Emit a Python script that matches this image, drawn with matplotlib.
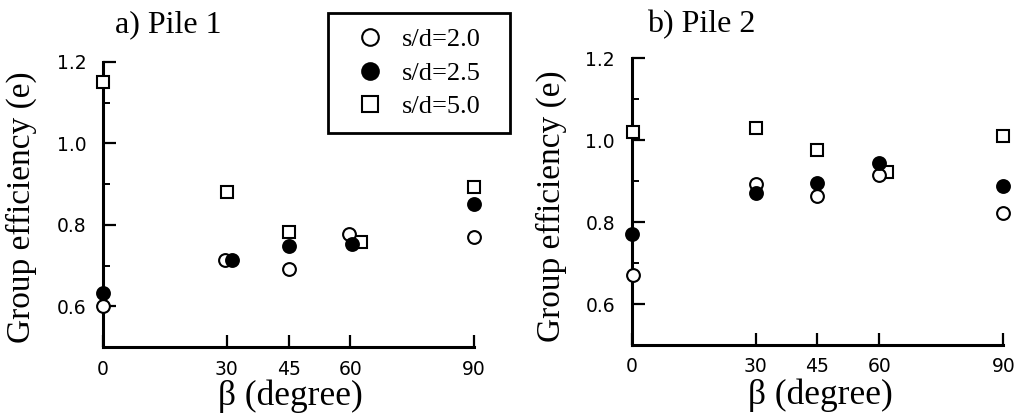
import matplotlib
matplotlib.use("Agg")
import matplotlib.pyplot as plt
from matplotlib.lines import Line2D

# ---- data ----
labels = ["s/d=2.0", "s/d=2.5", "s/d=5.0"]
xticks = [0, 30, 45, 60, 90]
yticks_major = [0.6, 0.8, 1.0, 1.2]
yticks_minor = [0.7, 0.9, 1.1]

# Panel a) Pile 1
a_open_x = [0, 29.7, 45, 59.7, 90]
a_open_y = [0.600, 0.713, 0.691, 0.778, 0.770]
a_fill_x = [0, 31.3, 45, 60.3, 90]
a_fill_y = [0.632, 0.713, 0.749, 0.754, 0.850]
a_sq_x = [0, 30, 45, 62.5, 90]
a_sq_y = [1.150, 0.881, 0.782, 0.758, 0.892]

# Panel b) Pile 2
b_open_x = [0.3, 30, 45, 59.8, 90]
b_open_y = [0.671, 0.893, 0.864, 0.915, 0.822]
b_fill_x = [0, 30, 45, 59.8, 90]
b_fill_y = [0.771, 0.872, 0.895, 0.944, 0.887]
b_sq_x = [0.2, 30, 45, 61.8, 90]
b_sq_y = [1.020, 1.029, 0.975, 0.923, 1.010]

SERIF = "Liberation Serif"
SANS = "DejaVu Sans"

fig = plt.figure(figsize=(10.2, 4.2), dpi=100)
ax_a = fig.add_axes([0.101, 0.1738, 0.3637, 0.6786])
ax_b = fig.add_axes([0.6193, 0.1786, 0.3643, 0.6826])

ms = 9.2
mew = 1.5

def draw(ax, ox, oy, fx, fy, sx, sy, title, title_xy, ylab_xy, xlab_xy):
    ax.plot(sx, sy, ls="none", marker="s", ms=ms, mfc="white", mec="black",
            mew=mew, clip_on=False, zorder=4)
    ax.plot(ox, oy, ls="none", marker="o", ms=ms, mfc="white", mec="black",
            mew=mew, clip_on=False, zorder=5)
    ax.plot(fx, fy, ls="none", marker="o", ms=ms, mfc="black", mec="black",
            mew=mew, clip_on=False, zorder=6)
    ax.set_xlim(0, 90)
    ax.set_ylim(0.5, 1.2)
    for s in ["top", "right"]:
        ax.spines[s].set_visible(False)
    for s in ["left", "bottom"]:
        ax.spines[s].set_linewidth(2.2)
    ax.set_xticks(xticks)
    ax.set_xticklabels([str(v) for v in xticks])
    ax.set_yticks(yticks_major)
    ax.set_yticklabels([f"{v:.1f}" for v in yticks_major])
    ax.set_yticks(yticks_minor, minor=True)
    ax.tick_params(axis="both", which="major", direction="in", length=9,
                   width=1.6, labelsize=13.5)
    ax.tick_params(axis="y", which="major", pad=12)
    ax.tick_params(axis="x", which="major", pad=9)
    ax.tick_params(axis="y", which="minor", direction="in", length=5, width=1.4)
    for lab in ax.get_xticklabels() + ax.get_yticklabels():
        lab.set_family(SANS)
    ax.set_ylabel("Group efficiency (e)", family=SERIF, fontsize=24)
    ax.yaxis.set_label_coords(*ylab_xy)
    ax.set_xlabel("β (degree)", family=SERIF, fontsize=25.5)
    ax.xaxis.set_label_coords(*xlab_xy)
    fig.text(title_xy[0], title_xy[1], title, family=SERIF, fontsize=23,
             ha="left", va="baseline")

draw(ax_a, a_open_x, a_open_y, a_fill_x, a_fill_y, a_sq_x, a_sq_y,
     "a) Pile 1", (115 / 1020, 1 - 32 / 420), (-0.178, 0.49), (0.504, -0.113))
draw(ax_b, b_open_x, b_open_y, b_fill_x, b_fill_y, b_sq_x, b_sq_y,
     "b) Pile 2", (647 / 1020, 1 - 32 / 420), (-0.174, 0.483), (0.509, -0.118))

handles = [
    Line2D([], [], ls="none", marker="o", ms=ms, mfc="white", mec="black", mew=mew),
    Line2D([], [], ls="none", marker="o", ms=ms, mfc="black", mec="black", mew=mew),
    Line2D([], [], ls="none", marker="s", ms=ms, mfc="white", mec="black", mew=mew),
]
leg = ax_a.legend(handles, labels, loc="upper left",
                  bbox_to_anchor=(328 / 1020, 1 - 13 / 420 - 0.01, (510 - 328) / 1020, 0.01),
                  bbox_transform=fig.transFigure, mode="expand", borderaxespad=0,
                  frameon=True, fancybox=False, framealpha=1, edgecolor="black",
                  prop={"family": SERIF, "size": 19}, labelspacing=0.38,
                  borderpad=0.56, handlelength=2.1, handletextpad=0.15,
                  markerscale=1.3, numpoints=1)
leg.get_frame().set_linewidth(2)
leg.set_zorder(10)

fig.savefig("out.png", dpi=100)
